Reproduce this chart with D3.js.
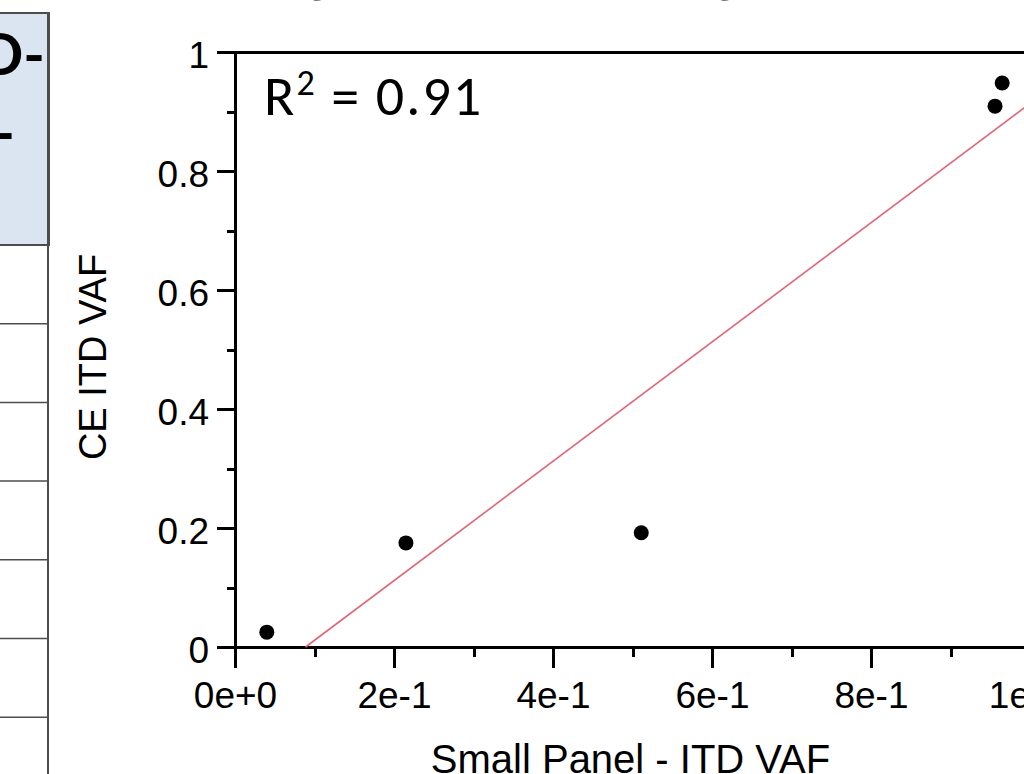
<!DOCTYPE html>
<html>
<head>
<meta charset="utf-8">
<script src="https://cdn.jsdelivr.net/npm/d3@7"></script>
<style>
  body { margin: 0; background: #fff; }
  svg { display: block; }
  .axis path, .axis line { stroke: #000; stroke-width: 3px; shape-rendering: crispEdges; }
  .axis text { font: 37px "Liberation Sans", Arial, sans-serif; fill: #000; }
  .lbl { font: 38px "Liberation Sans", Arial, sans-serif; fill: #000; }
</style>
</head>
<body>
<script>
// values
const smallPanel = [0.040, 0.215, 0.511, 0.956, 0.965];   // x: Small Panel - ITD VAF
const ceVaf      = [0.025, 0.175, 0.192, 0.909, 0.948];   // y: CE ITD VAF
const xMajor = [0, 0.2, 0.4, 0.6, 0.8, 1];
const xMinor = [0.1, 0.3, 0.5, 0.7, 0.9];
const yMajor = [0, 0.2, 0.4, 0.6, 0.8, 1];
const yMinor = [0.1, 0.3, 0.5, 0.7, 0.9];
const rSquaredLabel = "0.91";

const W = 1024, H = 774;
const svg = d3.select("body").append("svg").attr("width", W).attr("height", H);
svg.append("rect").attr("width", W).attr("height", H).attr("fill", "#fff");

// slide title, mostly cut off above the frame
svg.append("text")
  .attr("x", 193).attr("y", -8)
  .style("font", "bold 47px Lato, 'Open Sans', sans-serif")
  .text("Strong Correlation Among Assays");

// piece of the table on the left
const tbl = svg.append("g");
tbl.append("rect").attr("x", -5).attr("y", 13).attr("width", 54).attr("height", 232)
  .attr("fill", "#dbe5f1").attr("stroke", "#4d4d4d").attr("stroke-width", 2);
tbl.append("line").attr("x1", 48).attr("x2", 48).attr("y1", 13).attr("y2", H)
  .attr("stroke", "#4d4d4d").attr("stroke-width", 2);
d3.range(7).forEach(i => {
  tbl.append("line").attr("x1", 0).attr("x2", 48)
    .attr("y1", 245 + i * 78.7).attr("y2", 245 + i * 78.7)
    .attr("stroke", "#4d4d4d").attr("stroke-width", 1.5);
});
tbl.append("text").attr("x", 45).attr("y", 75).attr("text-anchor", "end")
  .style("font", "bold 58px Lato, sans-serif").text("ITD-");
tbl.append("text").attr("x", 15).attr("y", 153).attr("text-anchor", "end")
  .style("font", "bold 58px Lato, sans-serif").text("CE -");

// scales
const x = d3.scaleLinear().domain([0, 1]).range([235, 1030]);
const y = d3.scaleLinear().domain([0, 1]).range([647, 52]);

// top frame line
svg.append("line").attr("x1", x(0) - 18).attr("x2", x(1)).attr("y1", y(1)).attr("y2", y(1))
  .attr("stroke", "#000").attr("stroke-width", 3).style("shape-rendering", "crispEdges");

// x axis
svg.append("g").attr("class", "axis").attr("transform", `translate(0,${y(0)})`)
  .call(d3.axisBottom(x).tickValues(xMajor).tickSize(21).tickSizeOuter(0)
    .tickPadding(14).tickFormat(d3.format(".0e")));
svg.append("g").attr("class", "axis").attr("transform", `translate(0,${y(0)})`)
  .call(d3.axisBottom(x).tickValues(xMinor).tickSize(10).tickSizeOuter(0).tickFormat(""))
  .select(".domain").remove();

// y axis
svg.append("g").attr("class", "axis").attr("transform", `translate(${x(0)},0)`)
  .call(d3.axisLeft(y).tickValues(yMajor).tickSize(18).tickSizeOuter(0)
    .tickPadding(8).tickFormat(d3.format("~g")))
  .selectAll("text").attr("dy", "0.42em");
svg.append("g").attr("class", "axis").attr("transform", `translate(${x(0)},0)`)
  .call(d3.axisLeft(y).tickValues(yMinor).tickSize(8).tickSizeOuter(0).tickFormat(""))
  .select(".domain").remove();

// least squares fit
const mx = d3.mean(smallPanel), my = d3.mean(ceVaf);
const sxy = d3.sum(smallPanel, (v, i) => (v - mx) * (ceVaf[i] - my));
const sxx = d3.sum(smallPanel, v => (v - mx) * (v - mx));
const slope = sxy / sxx, icpt = my - slope * mx;
const x0 = -icpt / slope;
svg.append("line")
  .attr("x1", x(x0)).attr("y1", y(0))
  .attr("x2", x(1)).attr("y2", y(slope + icpt))
  .attr("stroke", "#e06474").attr("stroke-width", 1.6);

// points
svg.append("g").selectAll("circle")
  .data(smallPanel)
  .enter().append("circle")
  .attr("cx", d => x(d))
  .attr("cy", (d, i) => y(ceVaf[i]))
  .attr("r", 7.5)
  .attr("fill", "#000");

// axis titles
svg.append("text").attr("class", "lbl").attr("x", x(0.5) - 2).attr("y", 773)
  .attr("text-anchor", "middle").style("font-size", "40px").text("Small Panel - ITD VAF");
svg.append("text").attr("class", "lbl")
  .attr("transform", "translate(106,357) rotate(-90)")
  .attr("text-anchor", "middle").text("CE ITD VAF");

// R squared
const r2 = svg.append("text").attr("x", 264).attr("y", 115)
  .style("font", "56px Carlito, Lato, 'Open Sans', sans-serif")
  .style("letter-spacing", "2px").attr("fill", "#000");
r2.append("tspan").text("R");
r2.append("tspan").attr("dy", -20).style("font-size", "36px").text("2");
r2.append("tspan").attr("dy", 20).text(" = " + rSquaredLabel);
</script>
</body>
</html>
